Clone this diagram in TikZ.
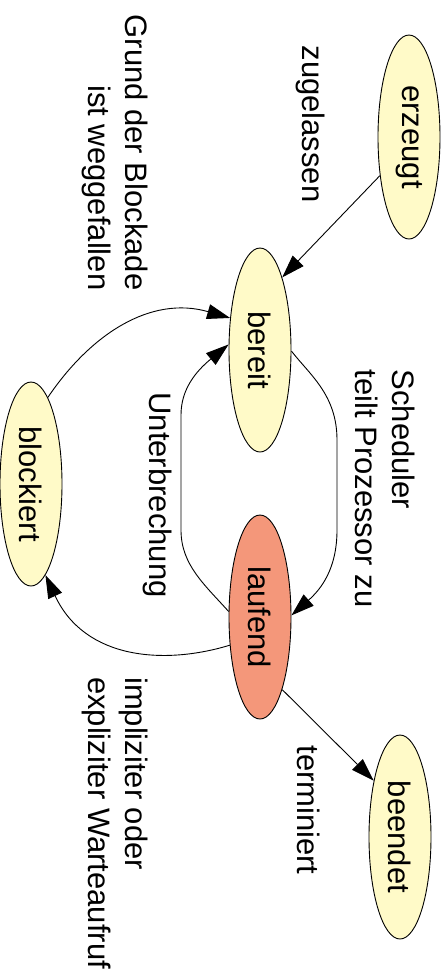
\documentclass[tikz,border=0pt]{standalone}
\usepackage{fontspec}
\setmainfont{Liberation Sans}
\usetikzlibrary{shapes.geometric,arrows.meta}
\definecolor{stategelb}{RGB}{255,250,200}
\definecolor{statelachs}{RGB}{244,151,122}
\tikzset{
  zustand/.style={ellipse, draw=black, line width=0.9pt, fill=stategelb,
    minimum width=62pt, minimum height=204pt, inner sep=0pt},
  kante/.style={-{Triangle[length=23pt,width=15pt]}, line width=0.9pt},
  beschr/.style={rotate=-90, inner sep=0pt},
}
\newcommand{\hoch}[1]{\rotatebox{-90}{#1}}
\begin{document}
\begin{tikzpicture}[x=1pt,y=-1pt,font=\fontsize{31}{36.5}\selectfont] 
		\useasboundingbox (0,0) rectangle (447,978);
		% Zustaende
		\node[zustand] (erzeugt) at (409,137) {\hoch{erzeugt}};
		\node[zustand] (bereit) at (260,350) {\hoch{bereit}};
		\node[zustand] (blockiert) at (31,484) {\hoch{blockiert}};
		\node[zustand, fill=statelachs] (laufend) at (260,617) {\hoch{laufend}};
		\node[zustand] (beendet) at (400,837) {\hoch{beendet}};
		% Beschriftungen
		\node[beschr] (zugelassen) at (310.5,124) {zugelassen};
		\node[beschr, align=right] (grund) at (115,152.5) {Grund der Blockade\\ist weggefallen};
		\node[beschr, align=left] (scheduler) at (385,488.5) {Scheduler\\teilt Prozessor zu};
		\node[beschr] (unterbrechung) at (157.5,495) {Unterbrechung};
		\node[beschr] (terminiert) at (308.5,810) {terminiert};
		\node[beschr, align=left] (warten) at (115,823) {impliziter oder\\expliziter Warteaufruf};
		% Uebergaenge
		\draw[kante] (erzeugt.233) -- (bereit.73);
		\draw[kante] (bereit.-2) .. controls (310,375) and (337,395) .. (337,440)
			-- (337,530) .. controls (337,570) and (320,590) .. (laufend.3);
		\draw[kante] (laufend.170) .. controls (205,585) and (181,565) .. (181,530)
			-- (181,415) .. controls (181,390) and (195,372) .. (bereit.170);
		\draw[kante] (blockiert.79) .. controls (90,335) and (150,295) .. (bereit.133);
		\draw[kante] (laufend.223) .. controls (165,665) and (85,660) .. (blockiert.279);
		\draw[kante] (laufend.287) -- (beendet.115);
		\end{tikzpicture}
\end{document}
